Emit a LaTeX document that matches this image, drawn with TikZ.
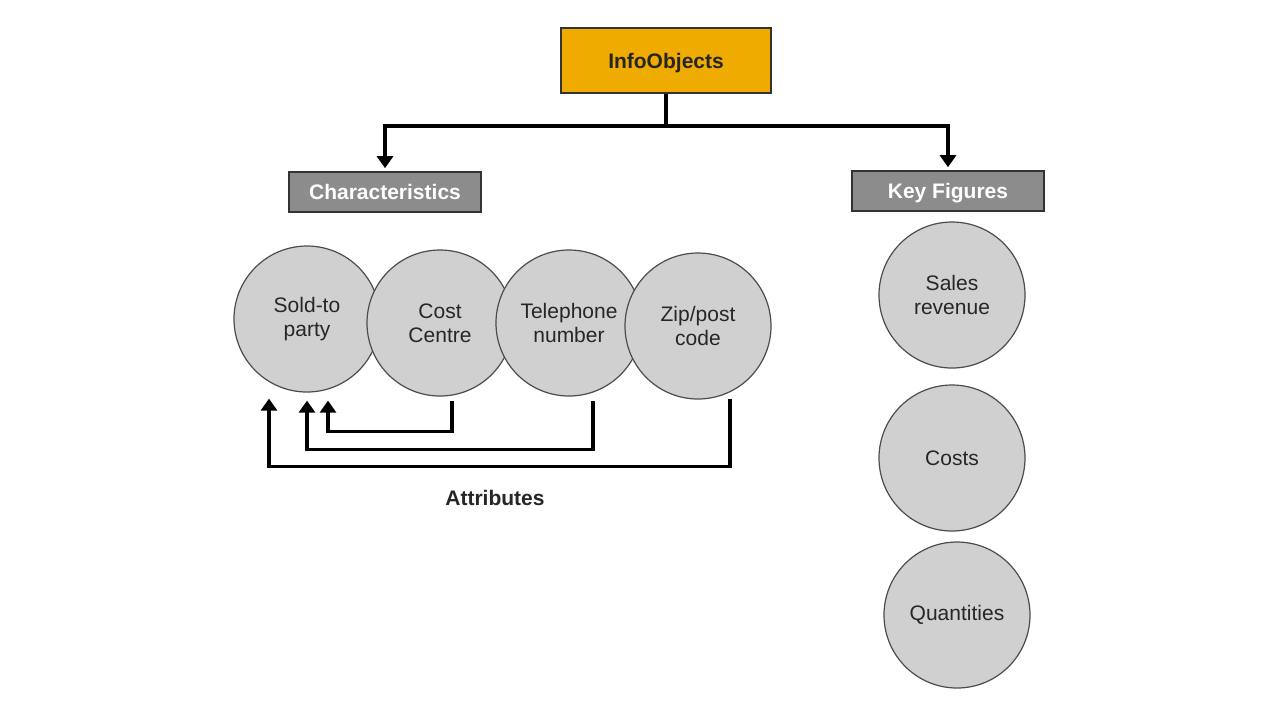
\documentclass[tikz,border=0pt]{standalone}
\usepackage{fontspec}
\setmainfont{Liberation Sans}
\usetikzlibrary{arrows.meta}
\definecolor{infoorange}{RGB}{240,171,0}
\definecolor{headgray}{RGB}{140,140,140}
\definecolor{ballgray}{RGB}{208,208,208}
\newcommand\labelsize{\fontsize{10.5}{12}\selectfont}
\tikzset{
  head/.style={draw=black!80,fill=headgray,text=white,font=\labelsize\bfseries,minimum width=96pt,minimum height=20pt,text height=7.6pt,text depth=0pt,line width=0.8pt},
  ball/.style={circle,draw=black!70,fill=ballgray,text=black!85,minimum size=73pt,inner sep=0pt,align=center,font=\labelsize,line width=0.6pt},
  link/.style={line width=1.7pt,-{Triangle[width=8pt,length=6pt]}}
}

\begin{document}
\begin{tikzpicture}[x=0.5pt,y=-0.5pt]
\useasboundingbox (0,0) rectangle (1280,720);
\node (info)[draw=black!80,fill=infoorange,minimum width=105pt,minimum height=32.5pt,text height=7.6pt,text depth=0pt,line width=0.8pt,font=\labelsize\bfseries,text=black!85] at (666,60.5) {InfoObjects};
\node (char)[head] at (385,192) {Characteristics};
\node (key)[head] at (948,191) {Key Figures};
\foreach \name/\x/\y/\label in {sold/307/319/{Sold-to\\party},cost/440/323/{Cost\\Centre},tel/569/323/{Telephone\\number},zip/698/326/{Zip/post\\code},sales/952/295/{Sales\\revenue},costs/952/458/{Costs},qty/957/615/{Quantities}}
\node[ball] (\name) at (\x,\y) {\label};
\draw[link,shorten >=1.5pt] (info.south) -- ++(0,32) -| (char.north);
\draw[link,shorten >=1.5pt] (info.south) -- ++(0,32) -| (key.north);
% attributes back to sold-to party
\draw[link] ([shift={(12,4)}]cost.south) -- ++(0,31) -| ([shift={(21,8)}]sold.south);
\draw[link] ([shift={(24,4)}]tel.south) -- ++(0,49) -| ([shift={(0,8)}]sold.south);
\draw[link] ([shift={(32,-1)}]zip.south) -- ++(0,68) -| ([shift={(-38,6)}]sold.south);
\node (attr)[font=\labelsize\bfseries,text=black!85,text height=7.6pt,text depth=0pt] at (495,498) {Attributes};
\end{tikzpicture}
\end{document}
